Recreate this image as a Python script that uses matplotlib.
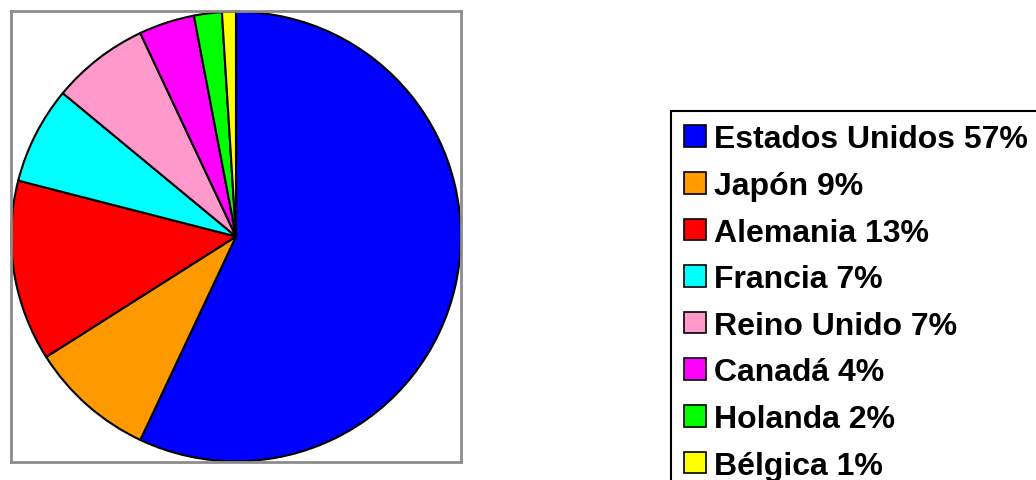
import matplotlib.pyplot as plt
from matplotlib.patches import Patch

# Data
countries = ["Estados Unidos", "Japón", "Alemania", "Francia",
             "Reino Unido", "Canadá", "Holanda", "Bélgica"]
shares = [57, 9, 13, 7, 7, 4, 2, 1]
colors = ["#0000FF", "#FF9900", "#FF0000", "#00FFFF",
          "#FF99CC", "#FF00FF", "#00FF00", "#FFFF00"]

plt.rcParams["font.family"] = ["Liberation Sans", "DejaVu Sans"]

W, H = 1036, 481
fig = plt.figure(figsize=(W / 100, H / 100), dpi=100)

# pie area with gray frame
ax = fig.add_axes([10 / W, (H - 463) / H, 452 / W, 451 / H])
wedges, _ = ax.pie(shares, colors=colors, startangle=90, counterclock=False,
                   radius=1.0,
                   wedgeprops=dict(edgecolor="black", linewidth=1.5))
for w in wedges:
    w.set_clip_on(False)
ax.set_xlim(-1.003, 1.003)
ax.set_ylim(-1.003, 1.003)
ax.set_frame_on(True)
ax.set_xticks([])
ax.set_yticks([])
for s in ax.spines.values():
    s.set_visible(True)
    s.set_color("#8c8c8c")
    s.set_linewidth(2)

# legend
labels = [f"{c} {v}%" for c, v in zip(countries, shares)]
handles = [Patch(facecolor=col, edgecolor="black", linewidth=1.2) for col in colors]
leg = fig.legend(handles, labels, loc="upper left",
                 bbox_to_anchor=(671 / W, 1 - 112 / H),
                 bbox_transform=fig.transFigure,
                 prop=dict(weight="bold", size=23),
                 handlelength=0.66, handleheight=0.66, handletextpad=0.26,
                 labelspacing=0.52, borderpad=0.42, borderaxespad=0,
                 fancybox=False, framealpha=1)
leg.get_frame().set_edgecolor("black")
leg.get_frame().set_linewidth(1.5)

fig.savefig("out.png", dpi=100)
